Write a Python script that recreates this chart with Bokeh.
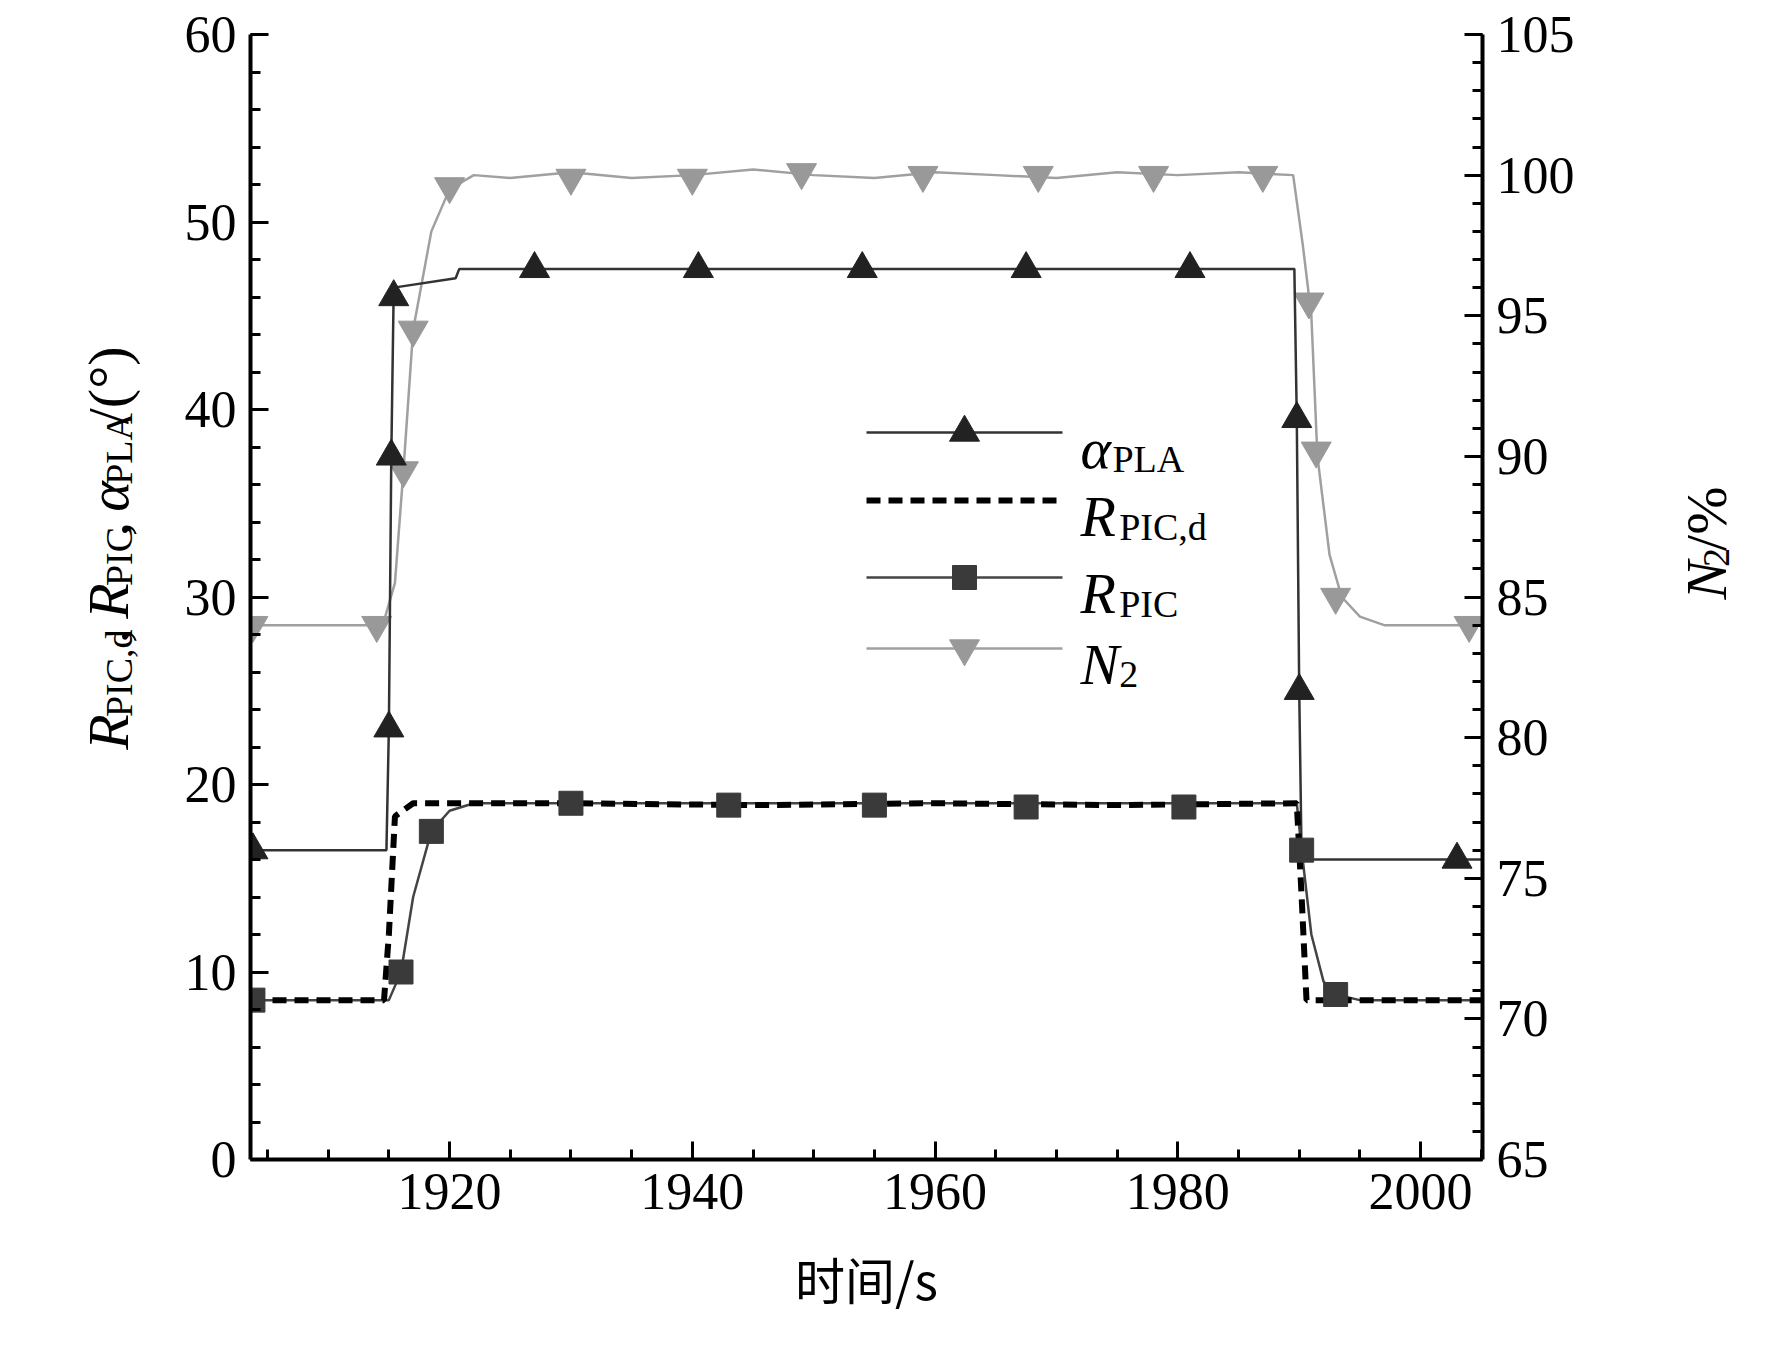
import math
from bokeh.plotting import figure
from bokeh.layouts import row
from bokeh.models import Range1d, LinearAxis, Label, SingleIntervalTicker
from bokeh.core.properties import value
from bokeh.embed import file_html
from bokeh.resources import INLINE

# ---- data ----
a_t = [1903.6, 1914.8, 1915.0, 1915.2, 1915.4, 1920.5, 1920.8, 1989.6, 1989.8, 1990.0, 1990.2, 2005.1]
a_v = [16.5, 16.5, 23.0, 37.5, 46.5, 47.0, 47.5, 47.5, 39.5, 25.0, 16.0, 16.0]
a_mt = [1903.8, 1915.0, 1915.2, 1915.4, 1927.0, 1940.5, 1954.0, 1967.5, 1981.0, 1989.8, 1990.0, 2003.0]
a_mv = [16.5, 23.0, 37.5, 46.0, 47.5, 47.5, 47.5, 47.5, 47.5, 39.5, 25.0, 16.0]

d_t = [1903.6, 1914.6, 1915.0, 1915.5, 1917.0, 1930, 1945, 1960, 1975, 1989.8, 1990.2, 1990.6, 2005.1]
d_v = [8.5, 8.5, 12.0, 18.3, 19.0, 19.0, 18.9, 19.0, 18.9, 19.0, 14.0, 8.5, 8.5]

r_t = [1903.6, 1915.0, 1916.0, 1917.0, 1918.5, 1920.0, 1922.0, 1989.8, 1990.2, 1991.0, 1992.0, 1993.0, 1995.0, 2005.1]
r_v = [8.5, 8.5, 10.0, 14.0, 17.5, 18.6, 19.0, 19.0, 16.5, 12.0, 9.5, 8.8, 8.5, 8.5]
r_mt = [1903.8, 1916.0, 1918.5, 1930.0, 1943.0, 1955.0, 1967.5, 1980.5, 1990.2, 1993.0]
r_mv = [8.5, 10.0, 17.5, 19.0, 18.9, 18.9, 18.8, 18.8, 16.5, 8.8]

n_t = [1903.6, 1914.5, 1915.5, 1916.2, 1917.0, 1918.5, 1920.0, 1922.0, 1925, 1930, 1935, 1940, 1945, 1950, 1955, 1960, 1965, 1970, 1975, 1980, 1985, 1989.5, 1990.3, 1991.0, 1991.5, 1992.5, 1993.5, 1995.0, 1997.0, 2005.1]
n_v = [84.0, 84.0, 85.5, 89.5, 94.5, 98.0, 99.5, 100.0, 99.9, 100.1, 99.9, 100.0, 100.2, 100.0, 99.9, 100.1, 100.0, 99.9, 100.1, 100.0, 100.1, 100.0, 97.5, 95.0, 90.0, 86.5, 85.0, 84.3, 84.0, 84.0]
n_mt = [1903.8, 1914.0, 1916.2, 1917.0, 1920.0, 1930.0, 1940.0, 1949.0, 1959.0, 1968.5, 1978.0, 1987.0, 1990.8, 1991.4, 1993.0, 2004.0]
n_mv = [84.0, 84.0, 89.5, 94.5, 99.6, 99.9, 99.9, 100.1, 100.0, 100.0, 100.0, 100.0, 95.5, 90.2, 85.0, 84.0]

XMIN, XMAX = 1903.6, 2005.1
H = 1334
LW, MW, RW = 150, 1496, 110
p = figure(width=MW, height=H, output_backend="svg", toolbar_location=None,
           x_range=Range1d(XMIN, XMAX), y_range=Range1d(0, 60),
           min_border_left=100, min_border_right=164, min_border_top=34, min_border_bottom=175)
p.extra_y_ranges = {"n": Range1d(65, 105)}
p.grid.visible = False
p.outline_line_color = None

FONT = "Liberation Serif"
def style(ax, ticker):
    ax.ticker = ticker
    ax.major_label_text_font = FONT
    ax.major_label_text_font_size = "52px"
    ax.major_label_text_color = "black"
    ax.axis_line_width = 4
    ax.major_tick_line_width = 3
    ax.minor_tick_line_width = 3
    ax.major_tick_in = 18
    ax.major_tick_out = 0
    ax.minor_tick_in = 10
    ax.minor_tick_out = 0

style(p.xaxis[0], SingleIntervalTicker(interval=20, num_minor_ticks=4))
style(p.yaxis[0], SingleIntervalTicker(interval=10, num_minor_ticks=5))
p.xaxis[0].axis_label = "时间/s"
p.xaxis[0].axis_label_text_font = "Noto Sans CJK SC"
p.xaxis[0].axis_label_text_font_style = "normal"
p.xaxis[0].axis_label_text_color = "black"
p.xaxis[0].axis_label_text_font_size = "50px"
p.xaxis[0].axis_label_standoff = 30
p.xaxis[0].major_label_standoff = 14
p.yaxis[0].major_label_standoff = 14

ra = LinearAxis(y_range_name="n")
style(ra, SingleIntervalTicker(interval=5, num_minor_ticks=5))
ra.major_label_standoff = 14
p.add_layout(ra, "right")

p.line(n_t, n_v, y_range_name="n", line_color="#a0a0a0", line_width=2.5)
p.scatter(n_mt, n_mv, y_range_name="n", marker="inverted_triangle", size=30, fill_color="#999999", line_color="#999999")
p.line(a_t, a_v, line_color="#333333", line_width=2.5)
p.scatter(a_mt, a_mv, marker="triangle", size=30, fill_color="#222222", line_color="#222222")
p.line(r_t, r_v, line_color="#444444", line_width=2.5)
p.line(d_t, d_v, line_color="black", line_width=6, line_dash="14 8")
p.scatter(r_mt, r_mv, marker="square", size=24, fill_color="#3a3a3a", line_color="#3a3a3a")

# ---- legend (manual) ----
ppx = 1232 / (XMAX - XMIN)
ppy = 1125 / 60.0
def dx(px): return px / ppx
def dy(py): return py / ppy
L0 = XMIN + dx(866 - 250); L1 = XMIN + dx(1062 - 250); LM = (L0 + L1) / 2
TX = XMIN + dx(1080 - 250)
rows = [432, 500, 577, 648]
ys = [(1159 - r) / ppy for r in rows]
p.line([L0, L1], [ys[0]] * 2, line_color="#333333", line_width=2.5)
p.scatter([LM], [ys[0]], marker="triangle", size=30, fill_color="#222222", line_color="#222222")
p.line([L0, L1], [ys[1]] * 2, line_color="black", line_width=6, line_dash="14 8")
p.line([L0, L1], [ys[2]] * 2, line_color="#444444", line_width=2.5)
p.scatter([LM], [ys[2]], marker="square", size=24, fill_color="#3a3a3a", line_color="#3a3a3a")
p.line([L0, L1], [ys[3]] * 2, line_color="#a0a0a0", line_width=2.5)
p.scatter([LM], [ys[3]], marker="inverted_triangle", size=30, fill_color="#999999", line_color="#999999")

MAIN, SUB = 58, 38
WID = {"R": .667, "α": .55, "N": .667, "P": .556, "I": .333, "C": .667, ",": .25, "d": .5,
       "L": .611, "A": .722, " ": .25, "/": .278, "(": .333, "°": .4, ")": .333, "2": .5, "%": .833}
def tw(s, size): return sum(WID.get(c, .5) for c in s) * size

leg = [[("α", True, False), ("PLA", False, True)],
       [("R", True, False), ("PIC,d", False, True)],
       [("R", True, False), ("PIC", False, True)],
       [("N", True, False), ("2", False, True)]]
for yv, parts in zip(ys, leg):
    off = 0
    for s, it, sub in parts:
        sz = SUB if sub else MAIN
        p.add_layout(Label(x=TX + dx(off), y=yv - dy(16 if not sub else 26), text=s,
                           text_font=FONT, text_font_size=f"{sz}px", text_color="black",
                           text_font_style="italic" if it else "normal",
                           text_baseline="alphabetic", text_align="left"))
        off += tw(s, sz)

# rotated axis labels in side figures (pixel coordinates, y from bottom)
def side_fig(w):
    f = figure(width=w, height=H, output_backend="svg", toolbar_location=None,
               x_range=Range1d(0, w), y_range=Range1d(0, H),
               min_border_left=0, min_border_right=0, min_border_top=0, min_border_bottom=0)
    f.axis.visible = False
    f.grid.visible = False
    f.outline_line_color = None
    return f

def vlabel(f, parts, xbase, ystart_top):
    off = 0
    for s, it, sub in parts:
        sz = SUB if sub else MAIN
        xx = xbase + (10 if sub else 0)
        f.text(x=[xx], y=[H - ystart_top + off], text=[s], angle=math.pi / 2,
               text_font=value(FONT), text_font_size=f"{sz}px", text_color="black",
               text_font_style="italic" if it else "normal",
               text_baseline="alphabetic", text_align="left")
        off += tw(s, sz)

lf = side_fig(LW)
vlabel(lf, [("R", True, False), ("PIC,d", False, True), (", ", False, False),
            ("R", True, False), ("PIC", False, True), (", ", False, False),
            ("α", True, False), ("PLA", False, True), ("/(°)", False, False)], 108, 848)
rf = side_fig(RW)
vlabel(rf, [("N", True, False), ("2", False, True), ("/%", False, False)], 60, 670)

lay = row(lf, p, rf, spacing=0)
open("out.html", "w").write(file_html(lay, INLINE))
